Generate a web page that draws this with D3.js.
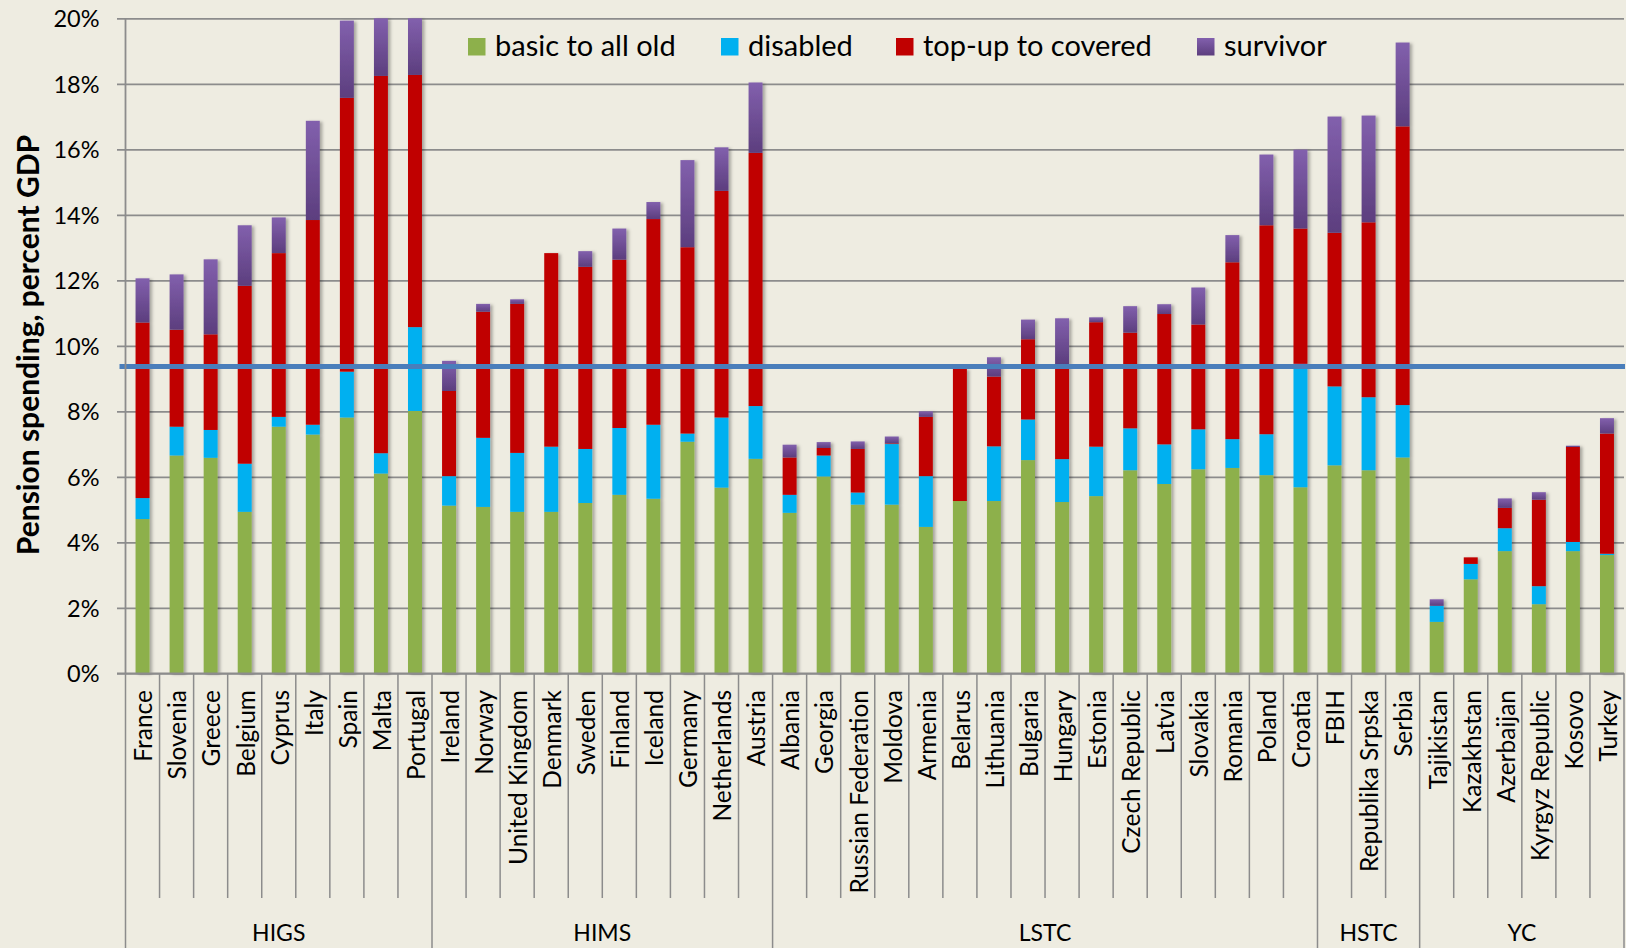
<!DOCTYPE html>
<meta charset="utf-8">
<script src="https://d3js.org/d3.v7.min.js"></script>
<style>
  body { margin: 0; background: #eeece1; }
  text { font-family: Lato, "Open Sans", sans-serif; fill: #000; }
</style>
<div id="vis"></div>
<script>

// categories
var countries = ["France", "Slovenia", "Greece", "Belgium", "Cyprus", "Italy", "Spain", "Malta", "Portugal",
  "Ireland", "Norway", "United Kingdom", "Denmark", "Sweden", "Finland", "Iceland", "Germany", "Netherlands", "Austria",
  "Albania", "Georgia", "Russian Federation", "Moldova", "Armenia", "Belarus", "Lithuania", "Bulgaria", "Hungary",
  "Estonia", "Czech Republic", "Latvia", "Slovakia", "Romania", "Poland", "Croatia",
  "FBIH", "Republika Srpska", "Serbia",
  "Tajikistan", "Kazakhstan", "Azerbaijan", "Kyrgyz Republic", "Kosovo", "Turkey"]
var groupNames = ["HIGS", "HIMS", "LSTC", "HSTC", "YC"]
var groupSizes = [9, 10, 16, 3, 6]

// series values, percent of GDP
var basicAll = [4.71, 6.65, 6.58, 4.93, 7.53, 7.29, 7.81, 6.10, 8.01,
  5.12, 5.08, 4.93, 4.93, 5.20, 5.45, 5.33, 7.07, 5.67, 6.55,
  4.90, 6.01, 5.15, 5.15, 4.47, 5.26, 5.26, 6.51, 5.23, 5.41, 6.20, 5.78, 6.23, 6.27, 6.05, 5.68,
  6.35, 6.20, 6.59,
  1.57, 2.87, 3.73, 2.11, 3.73, 3.61]
var disabled = [0.64, 0.88, 0.85, 1.47, 0.30, 0.30, 1.40, 0.62, 2.56,
  0.90, 2.11, 1.80, 1.99, 1.65, 2.04, 2.26, 0.25, 2.14, 1.61,
  0.55, 0.64, 0.37, 1.85, 1.55, 0.00, 1.67, 1.24, 1.31, 1.51, 1.28, 1.21, 1.22, 0.88, 1.25, 3.77,
  2.41, 2.23, 1.60,
  0.49, 0.47, 0.70, 0.55, 0.28, 0.04]
var topUp = [5.36, 2.96, 2.92, 5.43, 5.00, 6.25, 8.36, 11.52, 7.70,
  2.60, 3.85, 4.55, 5.91, 5.56, 5.14, 6.28, 5.69, 6.92, 7.73,
  1.14, 0.23, 1.33, 0.02, 1.81, 4.04, 2.13, 2.45, 2.90, 3.80, 2.92, 3.98, 3.20, 5.40, 6.38, 4.13,
  4.69, 5.34, 8.51,
  0.00, 0.20, 0.62, 2.64, 2.90, 3.67]
var survivor = [1.35, 1.69, 2.29, 1.85, 1.09, 3.03, 2.36, 1.76, 1.73,
  0.92, 0.24, 0.14, 0.00, 0.48, 0.95, 0.52, 2.66, 1.33, 2.15,
  0.39, 0.18, 0.23, 0.21, 0.17, 0.00, 0.59, 0.60, 1.40, 0.15, 0.81, 0.30, 1.13, 0.83, 2.16, 2.41,
  3.55, 3.26, 2.56,
  0.20, 0.00, 0.29, 0.23, 0.04, 0.47]
var seriesNames = ["basic to all old", "disabled", "top-up to covered", "survivor"]
var yTicks = [0, 2, 4, 6, 8, 10, 12, 14, 16, 18, 20]
var refLevel = 9.37

var width = 1626,
    height = 948,
    plotLeft = 125.5,
    plotRight = 1624,
    plotTop = 18.3,
    axisY = 673.3

var colors = ["#8db04b", "#00b0f0", "#c00000", "url(#purpleGrad)"]

var table = countries.map(function(c, i) {
  return { country: c, "basic to all old": basicAll[i], "disabled": disabled[i],
           "top-up to covered": topUp[i], "survivor": survivor[i] }
})

var svg = d3.select("#vis")
  .append("svg")
    .attr("width", width)
    .attr("height", height)

svg.append("rect").attr("width", width).attr("height", height).attr("fill", "#eeece1")

var defs = svg.append("defs")
var grad = defs.append("linearGradient").attr("id", "purpleGrad")
    .attr("x1", 0).attr("y1", 0).attr("x2", 0).attr("y2", 1)
grad.append("stop").attr("offset", "0%").attr("stop-color", "#8260ad")
grad.append("stop").attr("offset", "100%").attr("stop-color", "#5c3e7e")

var shadow = defs.append("filter").attr("id", "shadow")
    .attr("x", "-10%").attr("y", "-10%").attr("width", "130%").attr("height", "130%")
shadow.append("feDropShadow").attr("dx", 2.5).attr("dy", 1).attr("stdDeviation", 1.6)
    .attr("flood-color", "#000").attr("flood-opacity", 0.3)

var x = d3.scaleBand().domain(countries).range([plotLeft, plotRight])
var y = d3.scaleLinear().domain([0, 20]).range([axisY, plotTop])

// gridlines + y labels
var yAxis = svg.append("g")
    .attr("transform", "translate(" + plotLeft + ",0)")
    .call(d3.axisLeft(y).tickValues(yTicks).tickFormat(function(d) { return d + "%" })
      .tickSizeInner(-(plotRight - plotLeft)).tickSizeOuter(0).tickPadding(26))
yAxis.select(".domain").remove()
yAxis.selectAll(".tick line")
    .attr("x1", -8.5)
    .attr("stroke", "#8c8c8c")
    .attr("stroke-width", 1.8)
yAxis.selectAll(".tick text")
    .style("font-size", "23.5px")
    .style("font-family", "Lato")
    .attr("dy", "0.36em")

// stacked bars
var stacked = d3.stack().keys(seriesNames)(table)
var barW = x.bandwidth() * 0.41

var bars = svg.append("g").attr("filter", "url(#shadow)")
bars.selectAll("g")
  .data(stacked)
  .enter()
  .append("g")
    .attr("fill", function(d, i) { return colors[i] })
  .selectAll("rect")
  .data(function(d) { return d })
  .enter()
  .append("rect")
    .attr("x", function(d) { return x(d.data.country) + (x.bandwidth() - barW) / 2 })
    .attr("width", barW)
    .attr("y", function(d) { return y(Math.min(d[1], 20)) })
    .attr("height", function(d) { return Math.max(0, y(d[0]) - y(Math.min(d[1], 20))) })

// reference level
svg.append("line")
    .attr("x1", plotLeft - 6).attr("x2", plotRight + 1)
    .attr("y1", y(refLevel)).attr("y2", y(refLevel))
    .attr("stroke", "#4a7ebb")
    .attr("stroke-width", 5)

// axis lines
svg.append("line")
    .attr("x1", plotLeft).attr("x2", plotLeft).attr("y1", plotTop).attr("y2", axisY)
    .attr("stroke", "#8c8c8c").attr("stroke-width", 1.8)
svg.append("line")
    .attr("x1", plotLeft - 8.5).attr("x2", plotRight).attr("y1", axisY).attr("y2", axisY)
    .attr("stroke", "#8c8c8c").attr("stroke-width", 1.8)

// category separators and group separators
var groupStarts = []
var acc = 0
groupSizes.forEach(function(s) { groupStarts.push(acc); acc += s })

svg.append("g").selectAll("line")
  .data(d3.range(countries.length + 1))
  .enter()
  .append("line")
    .attr("x1", function(i) { return i < countries.length ? x(countries[i]) : plotRight })
    .attr("x2", function(i) { return i < countries.length ? x(countries[i]) : plotRight })
    .attr("y1", axisY)
    .attr("y2", function(i) { return (groupStarts.indexOf(i) >= 0 || i == countries.length) ? height : 898 })
    .attr("stroke", "#8c8c8c")
    .attr("stroke-width", 1.5)

// country labels
svg.append("g").selectAll("text")
  .data(countries)
  .enter()
  .append("text")
    .attr("transform", function(d) { return "translate(" + (x(d) + x.bandwidth() / 2 + 1) + "," + 690 + ") rotate(-90)" })
    .attr("text-anchor", "end")
    .attr("dy", "0.36em")
    .style("font-size", "24.5px")
    .text(function(d) { return d })

// group labels
svg.append("g").selectAll("text")
  .data(groupNames)
  .enter()
  .append("text")
    .attr("x", function(d, i) {
      var a = x(countries[groupStarts[i]])
      var b = a + groupSizes[i] * x.step()
      return (a + b) / 2
    })
    .attr("y", 941)
    .attr("text-anchor", "middle")
    .style("font-size", "23px")
    .text(function(d) { return d })

// y title
svg.append("text")
    .attr("transform", "translate(39,345) rotate(-90)")
    .attr("text-anchor", "middle")
    .style("font-size", "30px")
    .style("font-weight", "bold")
    .text("Pension spending, percent GDP")

// legend
var legendX = [468, 721, 896, 1197]
var legend = svg.append("g").selectAll("g")
  .data(seriesNames)
  .enter()
  .append("g")
    .attr("transform", function(d, i) { return "translate(" + legendX[i] + ",38)" })
legend.append("rect")
    .attr("width", 17.5).attr("height", 17.5)
    .attr("fill", function(d, i) { return colors[i] })
legend.append("text")
    .attr("x", 27)
    .attr("y", 18)
    .style("font-size", "29px")
    .text(function(d) { return d })

</script>
